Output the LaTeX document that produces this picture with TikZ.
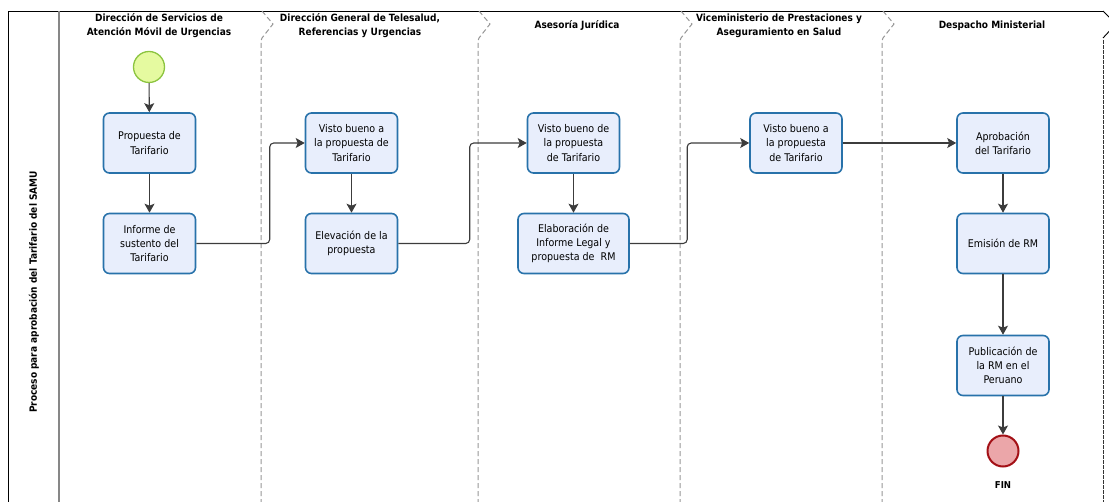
\documentclass[tikz,border=0pt]{standalone}
\usepackage{fontspec}
\setmainfont{DejaVu Sans}[FakeStretch=0.9]
\usetikzlibrary{arrows.meta}
\definecolor{taskfill}{RGB}{232,238,252}
\definecolor{taskline}{RGB}{40,114,170}
\definecolor{startfill}{RGB}{229,250,160}
\definecolor{startline}{RGB}{140,196,64}
\definecolor{endfill}{RGB}{235,166,169}
\definecolor{endline}{RGB}{163,16,22}
\definecolor{flowline}{RGB}{60,60,60}
\definecolor{laneline}{RGB}{150,150,150}
\tikzset{
  task/.style={draw=taskline, fill=taskfill, line width=1.6pt, rounded corners=6pt,
    minimum width=92pt, minimum height=60pt, inner sep=0pt, align=center,
    font=\fontsize{10.6}{14.2}\selectfont},
  startev/.style={circle, draw=startline, fill=startfill, line width=1.3pt, minimum size=31pt, inner sep=0pt},
  endev/.style={circle, draw=endline, fill=endfill, line width=2pt, minimum size=31pt, inner sep=0pt},
  flow/.style={draw=flowline, line width=1.1pt, -{Stealth[length=9pt,width=10pt,inset=2pt]}},
  lanehead/.style={font=\bfseries\fontsize{10}{14}\selectfont, align=center, inner sep=0pt},
  lanesep/.style={draw=laneline, line width=1pt, dash pattern=on 5pt off 3pt},
}
\begin{document}
\begin{tikzpicture}[x=1pt, y=-1pt]
\useasboundingbox (0,0) rectangle (1109,502);

% pool frame
\draw[black, line width=0.9pt] (8,502) -- (8,11) -- (1103,11);
\draw[laneline!90!black, line width=1.4pt] (59,11) -- (59,502);
\draw[black, line width=0.9pt] (1103,11) -- (1116,24) -- (1103,38);
\draw[black!80, line width=1pt, dash pattern=on 4pt off 1pt] (1103,40) -- (1103,502);

% lane separators with chevrons
\foreach \lx in {261,478,680,882}{
  \draw[lanesep] (\lx+1,11) -- (\lx+12,24) -- (\lx+1,38) -- (\lx,41) -- (\lx,502);
}

% pool label
\node[font=\bfseries\fontsize{10}{12}\selectfont, rotate=90, inner sep=0pt] (pool) at (34,292)
  {Proceso para aprobación del Tarifario del SAMU};

% lane headers
\node[lanehead] (h1) at (159,26) {Dirección de Servicios de\\Atención Móvil de Urgencias};
\node[lanehead] (h2) at (360,26) {Dirección General de Telesalud,\\Referencias y Urgencias};
\node[lanehead] (h3) at (577,26) {Asesoría Jurídica};
\node[lanehead] (h4) at (779,26) {Viceministerio de Prestaciones y\\Aseguramiento en Salud};
\node[lanehead] (h5) at (992,26) {Despacho Ministerial};

% events and tasks
\node[startev] (s) at (149,67) {};
\node[task] (t1) at (149.5,143) {Propuesta de\\Tarifario};
\node[task] (t2) at (149.5,243.5) {Informe de\\sustento del\\Tarifario};
\node[task] (t3) at (351.5,143) {Visto bueno a\\la propuesta de\\Tarifario};
\node[task] (t4) at (351.5,243.5) {Elevación de la\\propuesta};
\node[task] (t5) at (573.5,143) {Visto bueno de\\la propuesta\\de Tarifario};
\node[task, minimum width=111pt] (t6) at (573.5,243.5) {Elaboración de\\Informe Legal y\\propuesta de\ \ RM};
\node[task] (t7) at (796,143) {Visto bueno a\\la propuesta\\de Tarifario};
\node[task] (t8) at (1003,143) {Aprobación\\del Tarifario};
\node[task] (t9) at (1003,243.5) {Emisión de RM};
\node[task] (t10) at (1003,365.5) {Publicación de\\la RM en el\\Peruano};
\node[endev] (e) at (1003,451) {};
\node[font=\bfseries\fontsize{9.5}{11}\selectfont, inner sep=0pt] (fin) at (1003,485) {FIN};

% sequence flows
\draw[flow] (s) -- (t1);
\draw[flow] (t1) -- (t2);
\draw[flow, rounded corners=4pt] (t2.east) -| ([xshift=-35pt]t3.west) -- (t3.west);
\draw[flow] (t3) -- (t4);
\draw[flow, rounded corners=4pt] (t4.east) -| ([xshift=-57pt]t5.west) -- (t5.west);
\draw[flow] (t5) -- (t6);
\draw[flow, rounded corners=4pt] (t6.east) -| ([xshift=-62pt]t7.west) -- (t7.west);
\draw[flow] (t7) -- (t8);
\draw[flow] (t8) -- (t9);
\draw[flow] (t9) -- (t10);
\draw[flow] (t10) -- (e);
\end{tikzpicture}
\end{document}
